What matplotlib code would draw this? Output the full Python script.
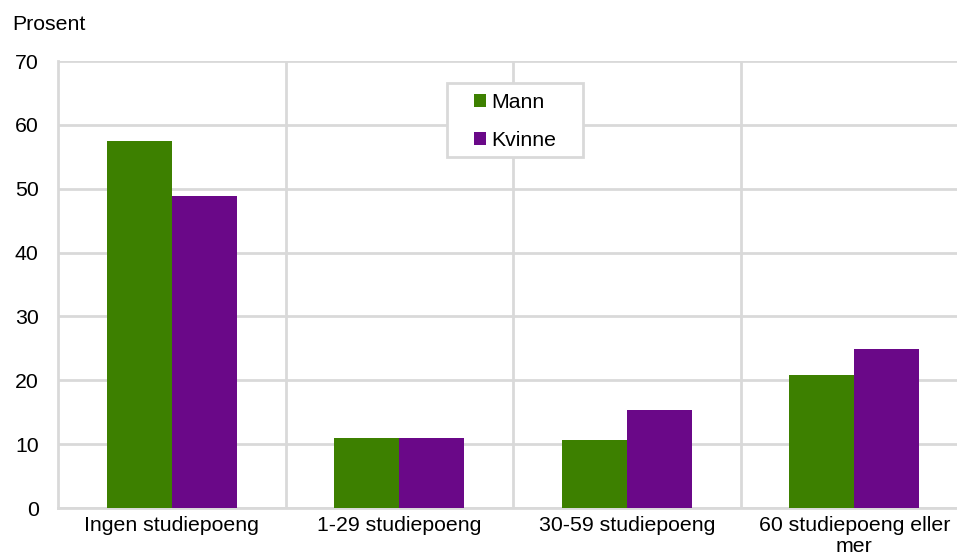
import matplotlib.pyplot as plt
from matplotlib.patches import Rectangle
import numpy as np

plt.rcParams['font.family'] = ['Liberation Sans', 'DejaVu Sans']

categories = ['Ingen studiepoeng', '1-29 studiepoeng', '30-59 studiepoeng', '60 studiepoeng eller\nmer']
mann = [57.5, 11.0, 10.7, 20.9]
kvinne = [48.9, 10.9, 15.3, 24.9]
yticks = [0, 10, 20, 30, 40, 50, 60, 70]

green = '#3d8000'
purple = '#6a0888'
grid_col = '#d9d9d9'
fs = 15.3

fig = plt.figure(figsize=(9.57, 5.56), dpi=100)
# plot area runs a little past the right edge of the image, as in the original
ax = fig.add_axes([58/957, 1 - 508/556, (968 - 58)/957, (508 - 61)/556])

x = np.arange(len(categories))
w = 0.286
ax.bar(x - w/2, mann, w, color=green, label='Mann', zorder=3)
ax.bar(x + w/2, kvinne, w, color=purple, label='Kvinne', zorder=3)

ax.set_xlim(-0.5, len(categories) - 0.5)
ax.set_ylim(0, 70)
ax.set_yticks(yticks)
ax.set_xticks(x)
ax.set_xticklabels(categories, fontsize=fs, linespacing=1.1)
ax.tick_params(axis='y', labelsize=fs, length=0, pad=14)
ax.tick_params(axis='x', length=0, pad=6)

ax.grid(axis='y', color=grid_col, linewidth=2, zorder=0)
for b in x[:-1] + 0.5:
    ax.axvline(b, color=grid_col, linewidth=2, zorder=0)

for s in ['top', 'right']:
    ax.spines[s].set_visible(False)
for s in ['left', 'bottom']:
    ax.spines[s].set_color(grid_col)
    ax.spines[s].set_linewidth(2)

fig.text(12/957, 1 - 25/556, 'Prosent', fontsize=fs, va='center', ha='left')

# legend box drawn separately so its padding can match the original
ax.add_patch(Rectangle((0.4275, 0.785), 0.1495, 0.1655, transform=ax.transAxes,
                       facecolor='white', edgecolor=grid_col, linewidth=2, zorder=4))
leg = ax.legend(loc='upper left', bbox_to_anchor=(0.457, 0.929),
                fontsize=fs, frameon=False, handlelength=0.55,
                handleheight=0.55, handletextpad=0.25, borderpad=0, labelspacing=0.9,
                borderaxespad=0)
leg.set_zorder(5)

fig.savefig('out.png', dpi=100)
